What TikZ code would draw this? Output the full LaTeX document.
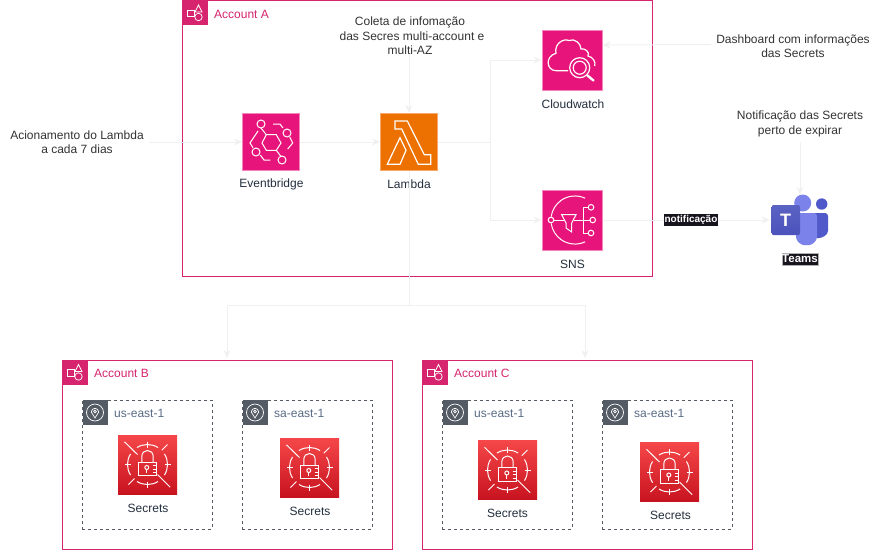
\documentclass[tikz,border=0pt]{standalone}
\usepackage{fontspec}
\setmainfont{Liberation Sans}
\usetikzlibrary{arrows.meta,calc}
\definecolor{pinkaws}{HTML}{E7157B}
\definecolor{pinkedge}{HTML}{F386BB}
\definecolor{acctline}{HTML}{D6246E}
\definecolor{lambdaor}{HTML}{ED7100}
\definecolor{lambdaedge}{HTML}{F8A868}
\definecolor{regiongray}{HTML}{545B64}
\definecolor{regiontext}{HTML}{5A6B86}
\definecolor{labelink}{HTML}{232F3E}
\definecolor{plainink}{HTML}{333333}
\definecolor{wire}{HTML}{F0F0F0}
\definecolor{tagbg}{HTML}{18141D}
\definecolor{secrethigh}{HTML}{F54749}
\definecolor{secretlow}{HTML}{C7131F}
\definecolor{teamsa}{HTML}{7B83EB}
\definecolor{teamsb}{HTML}{5059C9}
\definecolor{teamsc}{HTML}{4B53BC}
\definecolor{teamsd}{HTML}{5A62C3}
\tikzset{
  x=1pt,y=-1pt,
  every node/.style={font=\fontsize{12}{14.5}\selectfont,inner sep=0pt,align=center},
  wirearrow/.style={draw=wire,line width=1pt,-{Stealth[length=8pt,width=7pt,fill=wire]}},
  wireplain/.style={draw=wire,line width=1pt},
  glyph/.style={draw=white,line width=1pt,line join=miter,fill=none},
  pinkbox/.style={fill=pinkaws,draw=pinkedge,line width=1pt,minimum width=#1,minimum height=#1},
  lambdabox/.style={fill=lambdaor,draw=lambdaedge,line width=1pt,minimum width=58pt,minimum height=58pt},
  secretbox/.style={bottom color=secretlow,top color=secrethigh,draw=none,minimum width=59pt,minimum height=59pt},
  accountbox/.style={draw=acctline,line width=1pt,fill=none,minimum width=#1,anchor=north west},
  regionbox/.style={draw=regiongray,line width=.8pt,dash pattern=on 3pt off 3pt,minimum width=130pt,minimum height=129pt,anchor=north west},
  svclabel/.style={text=labelink},
  acctlabel/.style={text=acctline,anchor=west},
  regionlabel/.style={text=regiontext,anchor=west},
  note/.style={text=plainink},
  tag/.style={fill=tagbg,text=white,font=\fontsize{10}{12}\selectfont\bfseries,inner xsep=.5pt,inner ysep=1.5pt},
  teamstag/.style={fill=tagbg,text=white,draw=gray!60,line width=.4pt,font=\fontsize{11.5}{13}\selectfont\bfseries,inner xsep=.5pt,inner ysep=2pt},
  acctglyph/.pic={
    \fill[acctline] (0,0) rectangle (25,25);
    \draw[white,line width=.7pt] (5,10) rectangle (11.5,16.5);
    \draw[white,line width=.7pt] (12.5,12) -- (16,5) -- (19.5,12) -- cycle;
    \draw[white,line width=.7pt] (16,17) circle[radius=3.7];
  },
  regionglyph/.pic={
    \fill[regiongray] (0,0) rectangle (25,25);
    \draw[white,line width=.7pt] (12.5,12.5) circle[radius=8.5];
    \draw[white,line width=.7pt] (12.5,18) -- (8.8,12) arc[start angle=180,end angle=360,radius=3.7] -- cycle;
    \draw[white,line width=.7pt] (12.5,11.5) circle[radius=1.4];
  },
  ebglyph/.pic={
    \draw[glyph] (-4.7,-7.3) -- (5.3,-7.3) -- (10,1) -- (5.3,8.3) -- (-4.7,8.3) -- (-9,1) -- cycle;
    \foreach \c in {(-10,-18),(16,-9),(-15,10),(11,18)} \draw[glyph] \c circle[radius=4];
    \draw[glyph] (2,-18) -- (9,-18) -- (12,-14);
    \draw[glyph] (18.7,-5) -- (21.7,1) -- (16.7,7);
    \draw[glyph] (-13,-11) -- (-21,1) -- (-18,5.7);
    \draw[glyph] (-10.7,13) -- (-7,18) -- (-.7,18);
    \draw[glyph] (-10,-14) -- (-4.7,-7.3);
    \draw[glyph] (5.3,8.3) -- (10,14.5);
  },
  lambdaglyph/.pic={
    \draw[glyph,line width=1.2pt] (-14,-21) -- (-1.7,-21) -- (15.3,12.7) -- (21.7,12.7) -- (21.7,22.3) -- (9.3,22.3) -- (-7.3,-13) -- (-14,-13) -- cycle;
    \draw[glyph,line width=1.2pt] (-9,-4.3) -- (-3,8.3) -- (-9,22.3) -- (-21.7,22.3) -- cycle;
  },
  cwglyph/.pic={
    \draw[glyph,line width=1.2pt] (-4,10.7) -- (-15.7,10.7) .. controls (-26,10.7) and (-27,-4) .. (-16,-6.7)
      .. controls (-18,-16) and (-9,-22) .. (-3,-19.5) .. controls (2,-22) and (9,-17) .. (9,-11)
      .. controls (13,-12) and (18,-8) .. (16,-4) .. controls (21,-3) and (24,2) .. (22.7,6);
    \draw[glyph,line width=1.2pt] (7.7,7.7) circle[radius=10];
    \draw[glyph,line width=1.2pt] (7.7,7.7) circle[radius=6.5];
    \draw[white,line width=2.4pt,line cap=round] (15.5,15.5) -- (21.5,20.5);
  },
  snsglyph/.pic={
    \draw[glyph] (13.1,-21.8) arc[start angle=-65,end angle=-172,radius=24];
    \draw[glyph] (13.1,21.8) arc[start angle=65,end angle=172,radius=24];
    \foreach \c in {(19,-12.7),(20.7,0),(19,13),(-21,0)} \draw[glyph] \c circle[radius=2.8];
    \draw[glyph] (-10.3,-5.3) -- (4,-5.3) -- (-.3,3) -- (-.3,12) -- (-6,8) -- (-6,3) -- cycle;
    \draw[glyph] (-18.2,0) -- (-8.5,0);
    \draw[glyph] (1.5,0) -- (17.9,0);
    \draw[glyph] (16.2,-12.7) -- (11,-12.7) -- (11,13) -- (16.2,13);
  },
  secretglyph/.pic={
    \foreach \a/\b in {-32/32,58/122,148/212,238/302}
      \draw[glyph] (\a:20) arc[start angle=\a,end angle=\b,radius=20];
    \foreach \a in {0,90,180,270} \draw[glyph] (\a:17) -- (\a:23);
    \draw[glyph] (-23,-22.7) -- (-10,-10);
    \draw[glyph] (22.7,22.7) -- (10,10);
    \draw[glyph] (20,-20) -- (14.3,-14.3);
    \draw[glyph] (-19,20) -- (-13,14);
    \draw[glyph] (-9,-2.3) rectangle (9,11);
    \draw[glyph] (-5.7,-2.3) -- (-5.7,-8) .. controls (-5.7,-16) and (5.7,-16) .. (5.7,-8) -- (5.7,-2.3);
    \draw[glyph] (-.7,3) circle[radius=2];
    \draw[glyph] (-.7,5) -- (-.7,8.5);
    \draw[glyph] (5,1) -- (9,1);
    \draw[glyph] (5,4.5) -- (9,4.5);
    \draw[glyph] (5,8) -- (9,8);
  },
  teamsglyph/.pic={
    \fill[teamsb] (21.7,-16) circle[radius=5.7];
    \fill[teamsb,rounded corners=3pt] (10,-7) -- (28,-7) -- (28,8) .. controls (28,15) and (22,18) .. (16,18) -- (10,18) -- cycle;
    \fill[teamsa] (2.7,-17) circle[radius=8.5];
    \fill[teamsa,rounded corners=3pt] (-4,-7) -- (17,-7) -- (17,14) .. controls (17,21) and (12,25) .. (6.5,25) .. controls (1,25) and (-4,21) .. (-4,14) -- cycle;
    \shade[top color=teamsd,bottom color=teamsc,rounded corners=2pt] (-28.3,-15) rectangle (0,15);
    \node[text=white,font=\fontsize{18}{18}\selectfont\bfseries] at (-14.3,0) {T};
  },
}
\begin{document}
\begin{tikzpicture}
\useasboundingbox (0,0) rectangle (878,550);
\fill[white] (0,0) rectangle (878,550);

% containers
\node[accountbox=470pt,minimum height=276pt] (acctA) at (182,0) {};
\node[accountbox=330pt,minimum height=189pt] (acctB) at (62,359.5) {};
\node[accountbox=330pt,minimum height=189pt] (acctC) at (422,359.5) {};
\pic at (182.5,0) {acctglyph};
\pic at (62.5,359.5) {acctglyph};
\pic at (422.5,359.5) {acctglyph};
\node[acctlabel] (lblA) at (214,14) {Account A};
\node[acctlabel] (lblB) at (94,373) {Account B};
\node[acctlabel] (lblC) at (454,373) {Account C};

\node[regionbox] (r1) at (82,399.5) {};
\node[regionbox] (r2) at (242,399.5) {};
\node[regionbox] (r3) at (442,399.5) {};
\node[regionbox] (r4) at (602,399.5) {};
\pic at (82.5,400) {regionglyph};
\pic at (242.5,400) {regionglyph};
\pic at (442.5,400) {regionglyph};
\pic at (602.5,400) {regionglyph};
\node[regionlabel] (t1) at (114,413) {us-east-1};
\node[regionlabel] (t2) at (274,413) {sa-east-1};
\node[regionlabel] (t3) at (474,413) {us-east-1};
\node[regionlabel] (t4) at (634,413) {sa-east-1};

% services
\node[pinkbox=57pt] (eb) at (271,142) {};
\pic at (eb) {ebglyph};
\node[svclabel] (ebl) at (271.5,184) {Eventbridge};
\node[lambdabox,minimum width=57pt,minimum height=57pt] (lam) at (409,142) {};
\pic at (lam) {lambdaglyph};
\node[svclabel] (laml) at (409,184) {Lambda};
\node[pinkbox=60pt] (cw) at (572,60) {};
\pic at (cw) {cwglyph};
\node[svclabel] (cwl) at (573,104) {Cloudwatch};
\node[pinkbox=60pt] (sns) at (572,220) {};
\pic at (sns) {snsglyph};
\node[svclabel] (snsl) at (572.5,264) {SNS};

\node[secretbox] (s1) at (147.5,464.5) {};
\pic at (s1) {secretglyph};
\node[svclabel] (s1l) at (148,508) {Secrets};
\node[secretbox] (s2) at (309.5,467.5) {};
\pic at (s2) {secretglyph};
\node[svclabel] (s2l) at (310,511) {Secrets};
\node[secretbox] (s3) at (507.5,470) {};
\pic at (s3) {secretglyph};
\node[svclabel] (s3l) at (507.5,513) {Secrets};
\node[secretbox] (s4) at (669.5,472) {};
\pic at (s4) {secretglyph};
\node[svclabel] (s4l) at (670.5,515) {Secrets};

\node[minimum width=60pt,minimum height=50pt] (teams) at (800,220) {};
\pic at (teams) {teamsglyph};
\node[teamstag] (teamsl) at (800,259) {Teams};

% notes
\node[note] (acion) at (77,142) {Acionamento do Lambda\\a cada 7 dias};
\node[note] (coleta) at (410,36) {Coleta de infomação\\\hspace*{4pt}das Secres multi-account e\\multi-AZ};
\node[note] (dash) at (793,46) {Dashboard com informações\\das Secrets};
\node[note] (notif) at (800,124) {Notificação das Secrets\\perto de expirar};

% connectors
\draw[wirearrow] (acion.east) ++(5,0) -- (eb.west);
\draw[wirearrow] (eb.east) -- (lam.west);
\draw[wirearrow] (coleta.south -| lam.north) -- (lam.north);
\coordinate (split) at (490,142);
\draw[wireplain] (lam.east) -- (split);
\draw[wirearrow] (split) |- (cw.west);
\draw[wirearrow] (split) |- (sns.west);
\coordinate (down) at (409,305);
\coordinate (inB) at (227,358);
\coordinate (inC) at (585,358);
\draw[wireplain] (lam.south) -- (down);
\draw[wirearrow] (down) -| (inB);
\draw[wirearrow] (down) -| (inC);
\draw[wirearrow] (dash.west |- cw.north) ++(-5,15) -- ($(cw.east)+(0,-15)$);
\draw[wirearrow] (sns.east) -- (teams.west);
\draw[wirearrow] ($(notif.south -| teams.north)+(0,5)$) -- (teams.north);
\node[tag] (notiftag) at (691,220) {notificação};
\end{tikzpicture}
\end{document}
